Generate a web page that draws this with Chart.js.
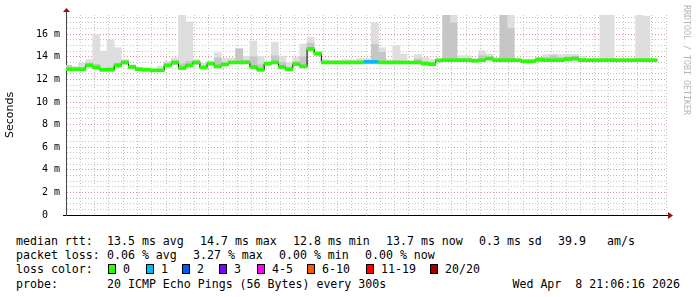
<!DOCTYPE html>
<html>
<head>
<meta charset="utf-8">
<script src="https://cdn.jsdelivr.net/npm/chart.js@4.4.1/dist/chart.umd.min.js"></script>
<style>
  body { margin: 0; background: #fff; }
  #wrap { position: relative; width: 697px; height: 297px; overflow: hidden; color: #000;
          font-family: "DejaVu Sans Mono", monospace; font-size: 11.6px; }
  #wrap canvas { position: absolute; left: 0; top: 0; }
  .t { position: absolute; white-space: pre; line-height: 14px; }
  .box { position: absolute; width: 8px; height: 10px; box-sizing: border-box; border: 1px solid #000; }
  #credit { position: absolute; left: 682px; top: 5px; writing-mode: vertical-rl; font-size: 8.3px;
            line-height: 9px; color: #b4b4b4; letter-spacing: 0; }
</style>
</head>
<body>
<div id="wrap">
  <canvas id="rttChart" width="697" height="232"></canvas>
  <div id="credit">RRDTOOL / TOBI OETIKER</div>
</div>
<script>
// 5 minute slots, first one starts 14:05, last one ends 21:00
const slotStart = 14 * 60 + 5;
const slotMinutes = 5;
const viewEnd = 21 * 60 + 6 + 16 / 60;
const viewStart = viewEnd - 7 * 60;

// median rtt per slot (ms)
const median = [
  12.9, 12.9, 12.9, 13.25, 13.07, 12.85, 12.85, 13.25, 13.5, 13.1,
  12.9, 12.85, 12.8, 12.8, 13.25, 13.5, 13.0, 13.25, 13.5, 13.05,
  13.4, 13.15, 13.33, 13.5, 13.5, 13.5, 13.1, 12.85, 13.4, 13.5,
  13.1, 12.9, 13.35, 13.15, 14.7, 14.28, 13.5, 13.5, 13.5, 13.5,
  13.5, 13.5, 13.55, 13.55, 13.5, 13.5, 13.5, 13.5, 13.5, 13.5,
  13.4, 13.35, 13.68, 13.7, 13.7, 13.7, 13.7, 13.65, 13.7, 13.85,
  13.7, 13.7, 13.7, 13.7, 13.6, 13.6, 13.75, 13.7, 13.7, 13.7,
  13.8, 13.85, 13.7, 13.7, 13.7, 13.7, 13.7, 13.7, 13.7, 13.7,
  13.7, 13.7, 13.7
];
// smoke: lowest ping, highest ping, top of the dense (dark) part
const smokeLow = [
  12.85, 12.85, 12.85, 13.1, 12.95, 12.75, 12.75, 13.1, 13.35, 13.0,
  12.8, 12.75, 12.75, 12.75, 13.1, 13.3, 12.9, 13.1, 13.35, 12.95,
  13.3, 13.05, 13.2, 13.4, 13.4, 13.4, 13.0, 12.75, 13.3, 13.4,
  13.0, 12.8, 13.25, 13.05, 14.5, 14.15, 13.45, 13.45, 13.45, 13.45,
  13.45, 13.45, 13.45, 13.45, 13.45, 13.45, 13.45, 13.45, 13.45, 13.45,
  13.3, 13.25, 13.6, 13.6, 13.6, 13.6, 13.6, 13.55, 13.6, 13.7,
  13.6, 13.55, 13.55, 13.6, 13.5, 13.5, 13.6, 13.6, 13.6, 13.6,
  13.65, 13.7, 13.55, 13.6, 13.6, 13.6, 13.6, 13.6, 13.6, 13.6,
  13.6, 13.6, 13.6
];
const smokeHigh = [
  13.25, 13.15, 13.45, 13.75, 15.95, 14.5, 15.5, 14.8, 13.75, 13.3,
  13.05, 12.95, 12.9, 13.15, 13.6, 13.9, 17.8, 17.1, 13.75, 13.45,
  13.6, 14.35, 13.85, 13.9, 14.72, 14.05, 15.4, 14.05, 13.55, 15.3,
  14.05, 13.5, 13.95, 15.13, 15.7, 14.5, 13.8, 13.7, 13.7, 13.75,
  13.75, 13.85, 13.85, 17.0, 14.8, 13.75, 15.0, 14.25, 13.6, 14.2,
  13.95, 13.75, 13.85, 17.8, 17.8, 14.1, 14.1, 13.85, 14.55, 14.25,
  13.95, 17.8, 17.8, 13.8, 13.8, 13.8, 13.95, 14.2, 14.25, 14.2,
  14.25, 14.2, 14.05, 13.85, 13.85, 17.8, 17.8, 13.85, 13.85, 13.85,
  17.7, 17.6, 13.85
];
const smokeDense = [
  13.25, 13.0, 13.05, 13.45, 13.35, 13.0, 13.05, 13.45, 13.7, 13.25,
  13.0, 12.9, 12.85, 12.9, 13.4, 13.65, 13.4, 13.6, 13.65, 13.2,
  13.5, 13.9, 13.5, 13.6, 14.7, 13.7, 14.0, 13.3, 13.5, 14.1,
  13.5, 13.1, 13.6, 14.0, 15.2, 14.4, 13.6, 13.55, 13.55, 13.6,
  13.6, 13.65, 13.7, 15.1, 14.4, 13.6, 13.65, 13.6, 13.55, 13.8,
  13.6, 13.5, 13.75, 17.8, 17.0, 13.85, 13.85, 13.75, 14.1, 14.0,
  13.8, 17.8, 16.5, 13.75, 13.7, 13.7, 13.9, 13.95, 14.1, 13.95,
  14.0, 14.05, 13.85, 13.75, 13.75, 13.85, 13.85, 13.75, 13.75, 13.75,
  13.85, 13.85, 13.75
];
// lost pings bucket per slot (index into lossLabels)
const lossBucket = [
  0, 0, 0, 0, 0, 0, 0, 0, 0, 0, 0, 0, 0, 0, 0, 0, 0, 0, 0, 0,
  0, 0, 0, 0, 0, 0, 0, 0, 0, 0, 0, 0, 0, 0, 0, 0, 0, 0, 0, 0,
  0, 0, 1, 1, 0, 0, 0, 0, 0, 0, 0, 0, 0, 0, 0, 0, 0, 0, 0, 0,
  0, 0, 0, 0, 0, 0, 0, 0, 0, 0, 0, 0, 0, 0, 0, 0, 0, 0, 0, 0,
  0, 0, 0
];
const lossLabels = ["0", "1", "2", "3", "4-5", "6-10", "11-19", "20/20"];
const lossColors = ["#26ff00", "#00b8ff", "#0059ff", "#7e00ff", "#ff00ff", "#ff5500", "#ff0000", "#a10000"];

const hourTicks = ["15:00", "16:00", "17:00", "18:00", "19:00", "20:00", "21:00"];
const rttTicks = ["0  ", "2 m", "4 m", "6 m", "8 m", "10 m", "12 m", "14 m", "16 m"];

const rttStats = ["13.5 ms avg", "14.7 ms max", "12.8 ms min", "13.7 ms now", "0.3 ms sd", "39.9", "am/s"];
const lossStats = ["0.06 % avg", "3.27 % max", "0.00 % min", "0.00 % now"];
const probeText = "20 ICMP Echo Pings (56 Bytes) every 300s";
const stampText = "Wed Apr  8 21:06:16 2026";

const BAND = 0.13; // half height of the loss coloured median band

const slotStartTime = (i) => slotStart + i * slotMinutes;
const slotMid = (i) => slotStartTime(i) + slotMinutes / 2;

const mono = { family: "'DejaVu Sans Mono', monospace", size: 10 };
const minorGrid = "#c4c4c4";
const majorGrid = "#e29494";

const axisArrows = {
  id: "axisArrows",
  afterDraw(chart) {
    const { ctx, chartArea: a } = chart;
    ctx.save();
    ctx.strokeStyle = "#444";
    ctx.lineWidth = 1;
    ctx.beginPath();
    ctx.moveTo(a.left + 0.5, a.top + 1);
    ctx.lineTo(a.left + 0.5, a.top - 4);
    ctx.stroke();
    ctx.strokeStyle = "#000";
    ctx.beginPath();
    ctx.moveTo(a.left - 3, a.bottom + 0.5);
    ctx.lineTo(a.left, a.bottom + 0.5);
    ctx.moveTo(a.right, a.bottom + 0.5);
    ctx.lineTo(a.right + 3, a.bottom + 0.5);
    ctx.stroke();
    ctx.fillStyle = "#8b1414";
    ctx.beginPath();
    ctx.moveTo(a.left - 3, a.top - 3);
    ctx.lineTo(a.left + 4, a.top - 3);
    ctx.lineTo(a.left + 0.5, a.top - 7);
    ctx.closePath();
    ctx.fill();
    ctx.beginPath();
    ctx.moveTo(a.right + 2, a.bottom - 3);
    ctx.lineTo(a.right + 2, a.bottom + 4);
    ctx.lineTo(a.right + 7, a.bottom + 0.5);
    ctx.closePath();
    ctx.fill();
    ctx.restore();
  },
};

const barBase = { type: "bar", grouped: false, barPercentage: 1, categoryPercentage: 1, borderWidth: 0, clip: 0 };

const medianLine = median.map((v, i) => ({ x: slotStartTime(i), y: v }));
medianLine.push({ x: slotStartTime(median.length), y: median[median.length - 1] });

new Chart(document.getElementById("rttChart"), {
  type: "line",
  data: {
    datasets: [
      {
        ...barBase,
        data: median.map((v, i) => ({ x: slotMid(i), y: [v - BAND, v + BAND] })),
        backgroundColor: lossBucket.map((b) => lossColors[b]),
      },
      {
        type: "line",
        data: medianLine,
        stepped: true,
        borderColor: "#000",
        borderWidth: 1,
        pointRadius: 0,
        fill: false,
        clip: 0,
      },
      {
        ...barBase,
        data: smokeDense.map((v, i) => ({ x: slotMid(i), y: [smokeLow[i], v] })),
        backgroundColor: "#c6c6c6",
      },
      {
        ...barBase,
        data: smokeHigh.map((v, i) => ({ x: slotMid(i), y: [smokeLow[i], v] })),
        backgroundColor: "#dedede",
      },
    ],
  },
  options: {
    responsive: false,
    animation: false,
    devicePixelRatio: 1,
    layout: { padding: { top: 15, right: 31, left: 0, bottom: 0 } },
    plugins: { legend: { display: false }, tooltip: { enabled: false } },
    scales: {
      x: {
        type: "linear",
        min: viewStart,
        max: viewEnd,
        offset: false,
        afterFit: (s) => { s.height = 17; },
        ticks: {
          stepSize: 10,
          includeBounds: false,
          autoSkip: false,
          maxRotation: 0,
          padding: 3,
          color: "#000",
          font: mono,
          callback: (v) => (v % 60 === 0 ? hourTicks[(v - 900) / 60] || "" : ""),
        },
        grid: {
          offset: false,
          drawTicks: false,
          lineWidth: 1,
          color: (c) => (c.tick && c.tick.value % 30 === 0 ? majorGrid : minorGrid),
        },
        border: { display: true, color: "#000", width: 1, dash: [1, 2] },
      },
      y: {
        min: 0,
        max: 17.7,
        afterFit: (s) => { s.width = 66; },
        ticks: {
          stepSize: 0.5,
          includeBounds: false,
          autoSkip: false,
          padding: 6,
          color: "#000",
          font: mono,
          callback: (v) => (v % 2 === 0 ? rttTicks[v / 2] : ""),
        },
        title: {
          display: true,
          text: "Seconds",
          color: "#000",
          font: { family: "'DejaVu Sans', sans-serif", size: 11 },
          padding: { top: 4, bottom: 0 },
        },
        grid: {
          drawTicks: false,
          lineWidth: 1,
          color: (c) => (c.tick && c.tick.value % 2 === 0 ? majorGrid : minorGrid),
        },
        border: { display: true, color: "#444", width: 1, dash: [1, 2] },
      },
    },
  },
  plugins: [axisArrows],
});

// text legend below the graph
const wrap = document.getElementById("wrap");
function addText(x, top, text, right) {
  const el = document.createElement("span");
  el.className = "t";
  el.textContent = text;
  el.style.top = top + "px";
  if (right) el.style.right = x + "px";
  else el.style.left = x + "px";
  wrap.appendChild(el);
}

addText(16, 234, "median rtt:");
[107, 200, 293, 386, 479, 558, 607].forEach((x, i) => addText(x, 234, rttStats[i]));

addText(16, 248, "packet loss:");
[107, 193, 279, 365].forEach((x, i) => addText(x, 248, lossStats[i]));

addText(16, 262, "loss color:");
[108, 146, 182, 219, 257, 307, 366, 430].forEach((x, i) => {
  const b = document.createElement("span");
  b.className = "box";
  b.style.left = x + "px";
  b.style.top = "264px";
  b.style.background = lossColors[i];
  wrap.appendChild(b);
  addText(x + 15, 262, lossLabels[i]);
});

addText(16, 277, "probe:");
addText(107, 277, probeText);
addText(17, 277, stampText, true);
</script>
</body>
</html>
